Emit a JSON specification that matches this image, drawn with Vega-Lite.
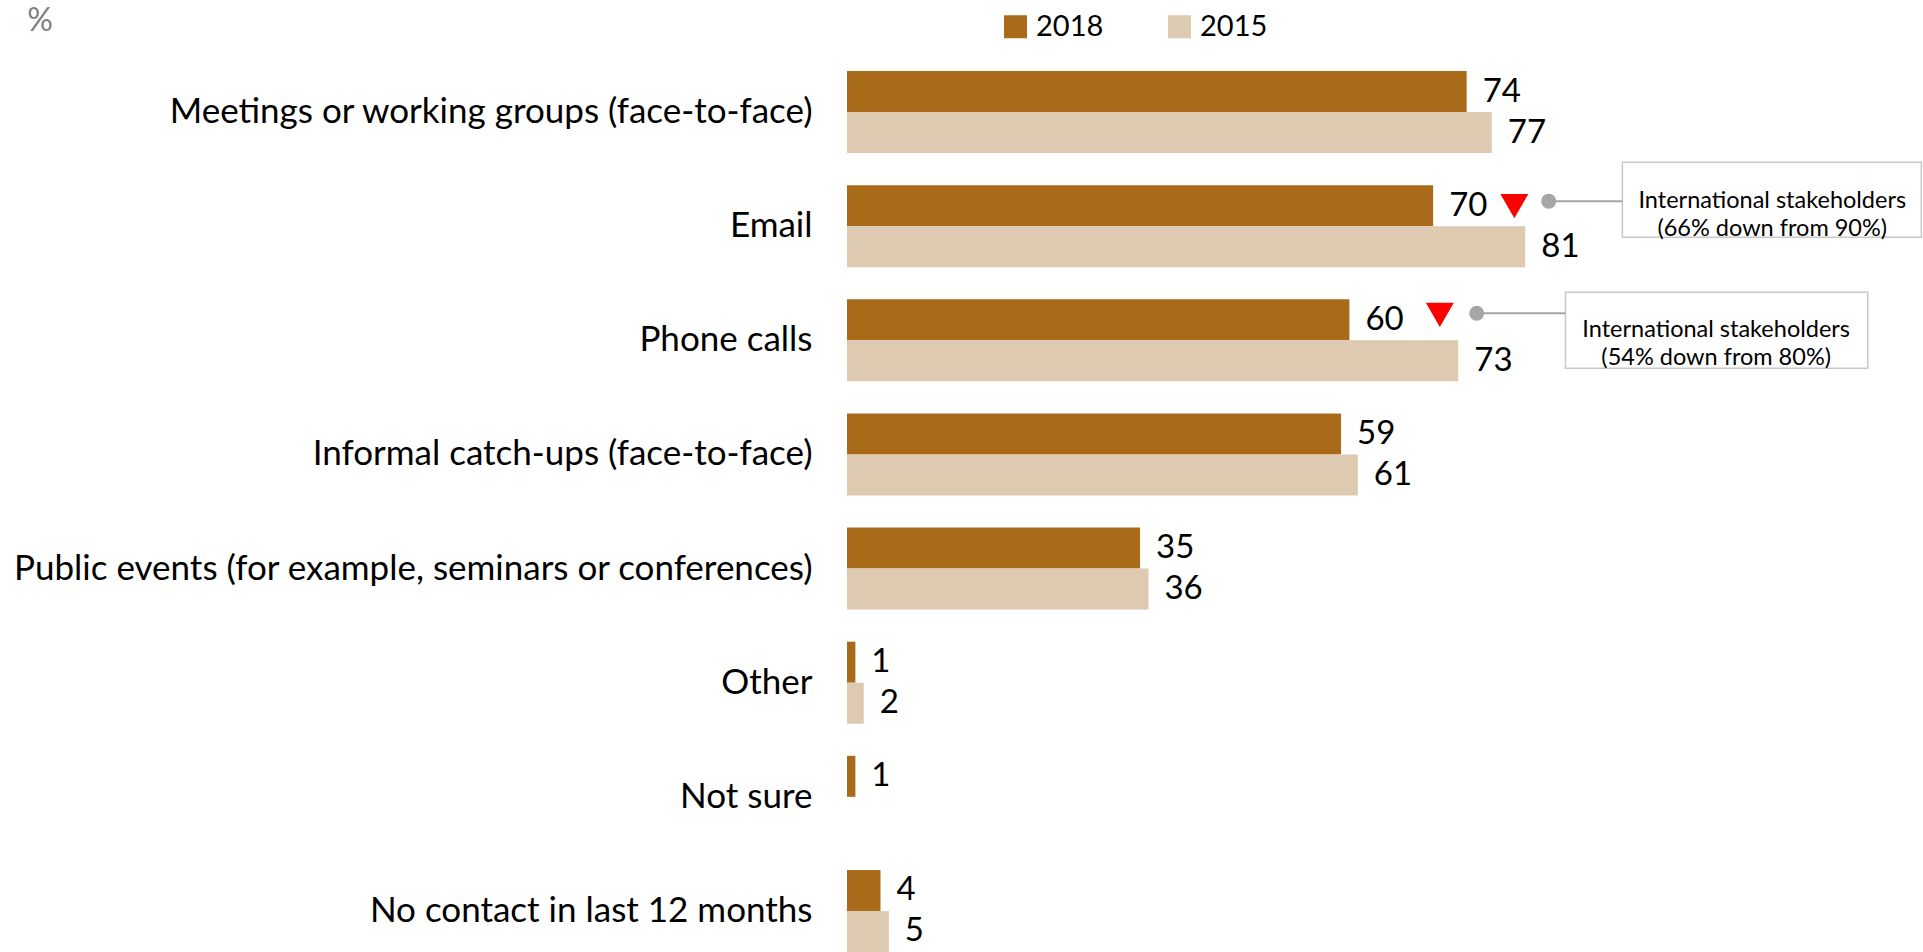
{
  "$schema": "https://vega.github.io/schema/vega-lite/v6.json",
  "autosize": {"type": "none"},
  "padding": {"left": 847, "top": 71, "right": 0, "bottom": 0},
  "width": 1076,
  "height": 881,
  "background": "white",
  "config": {"view": {"stroke": null}, "font": "Lato"},
  "title": {"text": "%", "anchor": "start", "frame": "bounds", "fontSize": 32, "fontWeight": "normal", "color": "#7F7F7F", "font": "Lato", "dx": 15, "dy": 30},
  "layer": [
    {
      "data": {"values": [
        {"category": "Meetings or working groups (face-to-face)", "year": "2018", "value": 74},
        {"category": "Meetings or working groups (face-to-face)", "year": "2015", "value": 77},
        {"category": "Email", "year": "2018", "value": 70},
        {"category": "Email", "year": "2015", "value": 81},
        {"category": "Phone calls", "year": "2018", "value": 60},
        {"category": "Phone calls", "year": "2015", "value": 73},
        {"category": "Informal catch-ups (face-to-face)", "year": "2018", "value": 59},
        {"category": "Informal catch-ups (face-to-face)", "year": "2015", "value": 61},
        {"category": "Public events (for example, seminars or conferences)", "year": "2018", "value": 35},
        {"category": "Public events (for example, seminars or conferences)", "year": "2015", "value": 36},
        {"category": "Other", "year": "2018", "value": 1},
        {"category": "Other", "year": "2015", "value": 2},
        {"category": "Not sure", "year": "2018", "value": 1},
        {"category": "No contact in last 12 months", "year": "2018", "value": 4},
        {"category": "No contact in last 12 months", "year": "2015", "value": 5}
      ]},
      "encoding": {
        "y": {
          "field": "category", "type": "nominal",
          "scale": {"domain": ["Meetings or working groups (face-to-face)", "Email", "Phone calls", "Informal catch-ups (face-to-face)", "Public events (for example, seminars or conferences)", "Other", "Not sure", "No contact in last 12 months"], "paddingInner": 0.281, "paddingOuter": 0},
          "axis": {"title": null, "domain": false, "ticks": false, "labelFontSize": 35, "labelColor": "black", "labelFont": "Lato", "labelPadding": 35, "labelLimit": 1000}
        },
        "yOffset": {"field": "year", "type": "nominal", "sort": ["2018", "2015"], "scale": {"domain": ["2018", "2015"], "paddingInner": 0}},
        "x": {"field": "value", "type": "quantitative", "scale": {"domain": [0, 128.5], "nice": false, "zero": true}, "axis": null}
      },
      "layer": [
        {
          "mark": {"type": "bar"},
          "encoding": {
            "color": {
              "field": "year", "type": "nominal",
              "scale": {"domain": ["2018", "2015"], "range": ["#A96B1A", "#DECAB0"]},
              "legend": {"orient": "none", "legendX": 154, "legendY": -59, "direction": "horizontal", "title": null, "symbolType": "square", "symbolSize": 529, "symbolStrokeWidth": 0, "labelFontSize": 29, "labelFont": "Lato", "labelColor": "black", "labelOffset": 6, "columnPadding": 61}
            }
          }
        },
        {
          "mark": {"type": "text", "align": "left", "baseline": "middle", "dx": 16, "fontSize": 33, "color": "black", "font": "Lato"},
          "encoding": {"text": {"field": "value", "type": "quantitative"}}
        }
      ]
    },
    {
      "data": {"values": [{"category": "Email", "note": "International stakeholders\n(66% down from 90%)"}]},
      "layer": [
        {
          "mark": {"type": "rect", "fill": "white", "stroke": "#C8C8C8", "strokeWidth": 1.5},
          "encoding": {
            "x": {"datum": 92.6, "type": "quantitative"},
            "x2": {"datum": 128.3},
            "y": {"field": "category", "type": "nominal", "bandPosition": -0.28},
            "y2": {"field": "category", "bandPosition": 0.634}
          }
        },
        {
          "mark": {"type": "rule", "stroke": "#A6A6A6", "strokeWidth": 2},
          "encoding": {
            "x": {"datum": 83.8, "type": "quantitative"},
            "x2": {"datum": 92.6},
            "y": {"field": "category", "type": "nominal", "bandPosition": 0.195}
          }
        },
        {
          "mark": {"type": "point", "shape": "circle", "filled": true, "size": 225, "color": "#A6A6A6", "opacity": 1},
          "encoding": {
            "x": {"datum": 83.8, "type": "quantitative"},
            "y": {"field": "category", "type": "nominal", "bandPosition": 0.195}
          }
        },
        {
          "mark": {"type": "point", "shape": "triangle-down", "filled": true, "size": 784, "color": "#FF0000", "opacity": 1},
          "encoding": {
            "x": {"datum": 79.7, "type": "quantitative"},
            "y": {"field": "category", "type": "nominal", "bandPosition": 0.256}
          }
        },
        {
          "mark": {"type": "text", "align": "center", "baseline": "middle", "fontSize": 23.5, "lineHeight": 28, "lineBreak": "\n", "color": "black", "font": "Lato"},
          "encoding": {
            "x": {"datum": 110.5, "type": "quantitative"},
            "y": {"field": "category", "type": "nominal", "bandPosition": 0.195},
            "text": {"field": "note"}
          }
        }
      ]
    },
    {
      "data": {"values": [{"category": "Phone calls", "note": "International stakeholders\n(54% down from 80%)"}]},
      "layer": [
        {
          "mark": {"type": "rect", "fill": "white", "stroke": "#C8C8C8", "strokeWidth": 1.5},
          "encoding": {
            "x": {"datum": 85.8, "type": "quantitative"},
            "x2": {"datum": 121.9},
            "y": {"field": "category", "type": "nominal", "bandPosition": -0.085},
            "y2": {"field": "category", "bandPosition": 0.84}
          }
        },
        {
          "mark": {"type": "rule", "stroke": "#A6A6A6", "strokeWidth": 2},
          "encoding": {
            "x": {"datum": 75.2, "type": "quantitative"},
            "x2": {"datum": 85.8},
            "y": {"field": "category", "type": "nominal", "bandPosition": 0.17}
          }
        },
        {
          "mark": {"type": "point", "shape": "circle", "filled": true, "size": 225, "color": "#A6A6A6", "opacity": 1},
          "encoding": {
            "x": {"datum": 75.2, "type": "quantitative"},
            "y": {"field": "category", "type": "nominal", "bandPosition": 0.17}
          }
        },
        {
          "mark": {"type": "point", "shape": "triangle-down", "filled": true, "size": 784, "color": "#FF0000", "opacity": 1},
          "encoding": {
            "x": {"datum": 70.8, "type": "quantitative"},
            "y": {"field": "category", "type": "nominal", "bandPosition": 0.19}
          }
        },
        {
          "mark": {"type": "text", "align": "center", "baseline": "middle", "fontSize": 23.5, "lineHeight": 28, "lineBreak": "\n", "color": "black", "font": "Lato"},
          "encoding": {
            "x": {"datum": 103.8, "type": "quantitative"},
            "y": {"field": "category", "type": "nominal", "bandPosition": 0.378},
            "text": {"field": "note"}
          }
        }
      ]
    }
  ]
}
